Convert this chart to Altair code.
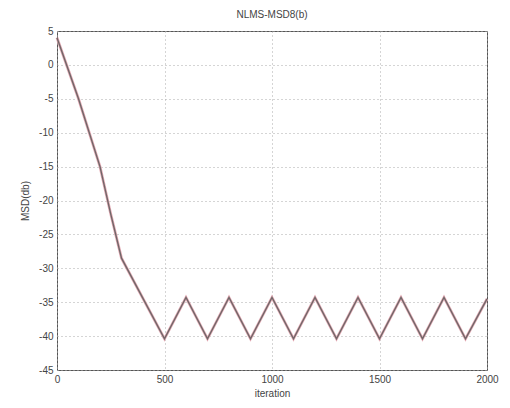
import altair as alt
import pandas as pd

iterations = [0, 100, 200, 250, 300, 500, 600, 700, 800, 900, 1000, 1100, 1200,
              1300, 1400, 1500, 1600, 1700, 1800, 1900, 2000]
msd_black = [4.0, -5.0, -15.0, -22.0, -28.5, -40.4, -34.3, -40.4, -34.3, -40.4, -34.3,
             -40.4, -34.3, -40.4, -34.3, -40.4, -34.3, -40.4, -34.3, -40.4, -34.5]
msd_red = list(msd_black)

df = pd.DataFrame({"iteration": iterations, "black": msd_black, "red": msd_red})

x_ticks = [0, 500, 1000, 1500, 2000]
y_ticks = [5, 0, -5, -10, -15, -20, -25, -30, -35, -40, -45]

FONT = "Liberation Sans"

x = alt.X("iteration:Q", scale=alt.Scale(domain=[0, 2000], nice=False),
          axis=alt.Axis(title="iteration", values=x_ticks, grid=True,
                        gridDash=[1, 3], gridColor="#aaaaaa", gridWidth=1,
                        tickSize=0, labelPadding=4, titlePadding=4,
                        domain=False, labelFlush=False,
                        labelExpr="datum.value + ''"))

def yenc(field):
    return alt.Y(f"{field}:Q", scale=alt.Scale(domain=[-45, 5], nice=False, zero=False),
                 axis=alt.Axis(title="MSD(db)", values=y_ticks, grid=True,
                               gridDash=[1, 3], gridColor="#aaaaaa", gridWidth=1,
                               tickSize=0, labelPadding=4, titlePadding=8,
                               domain=False, labelExpr="datum.value + ''"))

red = alt.Chart(df).mark_line(color="#e3a9b3", strokeWidth=2.8).encode(x=x, y=yenc("red"))
black = alt.Chart(df).mark_line(color="#5c5c5c", strokeWidth=1.4, opacity=0.85).encode(x=x, y=yenc("black"))

chart = (
    alt.layer(red, black)
    .properties(
        width=430, height=339,
        title=alt.TitleParams("NLMS-MSD8(b)", fontSize=10, fontWeight="normal",
                              font=FONT, color="#444444", offset=6),
        autosize=alt.AutoSizeParams(type="none"),
        padding={"left": 57, "top": 31, "right": 23, "bottom": 38},
        background="white",
    )
    .configure_view(stroke="#555555", strokeWidth=1)
    .configure_axis(labelFont=FONT, titleFont=FONT, labelFontSize=10, titleFontSize=10,
                    labelColor="#444444", titleColor="#444444", titleFontWeight="normal")
)

chart.save("out.html", embed_options={"renderer": "svg", "actions": False})
